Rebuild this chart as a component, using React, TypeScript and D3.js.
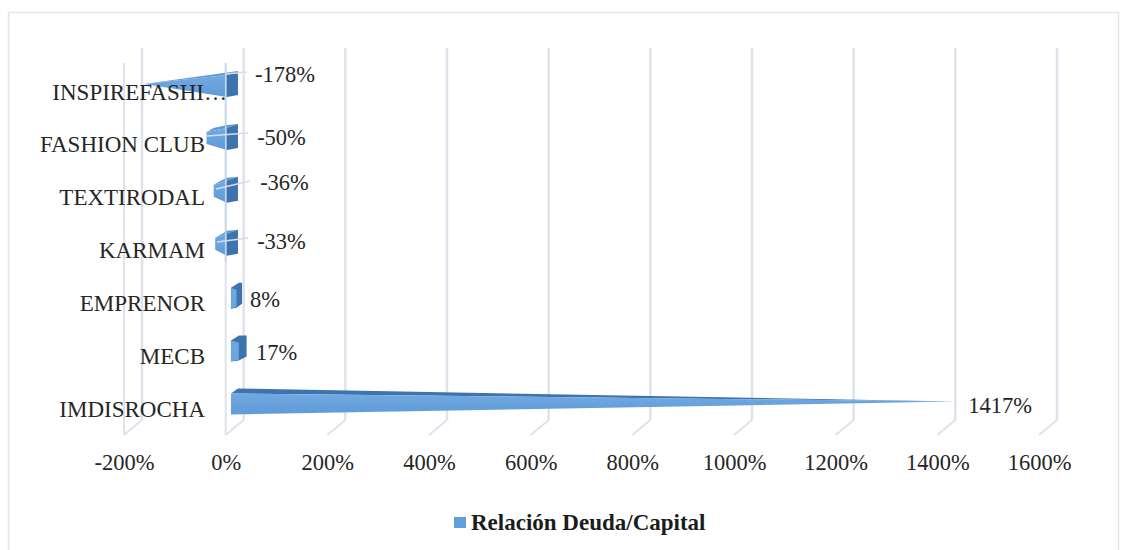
import React from "react";
import * as d3 from "d3";

const categories = ["INSPIREFASHI…", "FASHION CLUB", "TEXTIRODAL", "KARMAM", "EMPRENOR", "MECB", "IMDISROCHA"];
const values = [-178, -50, -36, -33, 8, 17, 1417];
const valueLabels = ["-178%", "-50%", "-36%", "-33%", "8%", "17%", "1417%"];
const ticks = [-200, 0, 200, 400, 600, 800, 1000, 1200, 1400, 1600];
const seriesName = "Relación Deuda/Capital";

const FONT = "'Liberation Serif', 'Times New Roman', serif";
const LIGHT = "#6ea6e0";
const DARK = "#3d74ad";
const GRID = "#dfe2ea";

const xBack = d3.scaleLinear().domain([-200, 1600]).range([142, 1057]);
const xMid = d3.scaleLinear().domain([-200, 1600]).range([132.8, 1047.8]);
const y = d3.scalePoint<string>().domain(categories).range([84, 401.5]);

const pts = (p: [number, number][]) => p.map((q) => q.join(",")).join(" ");

const labelPos: [number, number][] = [
  [285, 82], [281.5, 145], [284.5, 190], [281.5, 249], [265, 307], [276.5, 360], [1000, 413],
];
const leaders: ([number, number, number, number] | null)[] = [
  [226, 74, 247, 72], [207, 136, 248, 133], [216, 189, 250, 181], [217, 242, 248, 238], null, null, null,
];

function Bar({ v, c }: { v: number; c: string }) {
  const yc = y(c)!;
  const baseL = xMid(0) - 3.5;
  const baseR = xMid(0) + 3.5;
  const A: [number, number] = [baseL, yc + 13];
  const B: [number, number] = [baseL, yc - 8];
  const C: [number, number] = [baseR, yc - 13];
  const t = xMid(v);
  if (v < 0) {
    const blunt = v > -100;
    const end = blunt ? t - 2.5 : t;
    const nL = baseL - 4;
    const nA: [number, number] = [nL, yc + 13];
    const nB: [number, number] = [nL, yc - 9];
    const face: [number, number][] = blunt
      ? [[end, yc - 5], nB, nA, [end, yc + 7]]
      : [[end, yc], nB, nA];
    const top: [number, number][] = blunt
      ? [[end, yc - 5], [end + 7, yc - 9], [nL, yc - 12], C, nB]
      : [[end, yc], C, nB];
    return (
      <g>
        <polygon points={pts(top)} fill="#5f9ad6" />
        <polygon points={pts(face)} fill="url(#barFill)" />
        <polygon points={pts([nB, C, [baseR, yc + 11], nA])} fill={DARK} />
      </g>
    );
  }
  if (v < 100) {
    const tip = t + 3.5;
    const m = (baseL + tip) / 2;
    return (
      <g>
        <polygon points={pts([B, [baseL + 8, yc - 13], [tip, yc - 13], [tip, yc + 8], [m, yc + 12], A])} fill={DARK} />
        <polygon points={pts([B, A, [m, yc + 11], [m, yc - 6]])} fill={LIGHT} />
      </g>
    );
  }
  return (
    <g>
      <polygon points={pts([B, C, [t, yc]])} fill={DARK} />
      <polygon points={pts([B, A, [t, yc]])} fill="url(#barFill)" />
    </g>
  );
}

export default function App() {
  return (
    <svg
      width={1130}
      height={550}
      style={{ position: "absolute", left: 0, top: 0, background: "#fff" }}
      fontFamily={FONT}
    >
      <defs>
        <linearGradient id="barFill" x1="0" y1="0" x2="0" y2="1">
          <stop offset="0" stopColor="#72a9e2" />
          <stop offset="1" stopColor="#5f9bd8" />
        </linearGradient>
      </defs>
      <path d="M8.5,550 V12.5 H1118.5 V550" fill="none" stroke="#e6e6e6" strokeWidth={1.5} />
      {ticks.map((tk) => {
        const bx = xBack(tk);
        const front = bx - 18;
        return (
          <g key={tk}>
            <line x1={bx} x2={bx} y1={48} y2={420} stroke={GRID} strokeWidth={2.5} />
            <line x1={bx} x2={front} y1={420} y2={435} stroke={GRID} strokeWidth={2} />
            {tk <= 0 && <line x1={front} x2={front} y1={63} y2={435} stroke={GRID} strokeWidth={2} />}
            <text x={front + 0.5} y={470} textAnchor="middle" fontSize={22.5} fill="#262626">
              {tk}%
            </text>
          </g>
        );
      })}
      {categories.map((c, i) => (
        <Bar key={c} v={values[i]} c={c} />
      ))}
      <line x1={xBack(0) - 18} x2={xBack(0) - 18} y1={63} y2={262} stroke="#c4d5e8" strokeWidth={1.5} />
      {leaders.map((l, i) =>
        l ? <line key={i} x1={l[0]} y1={l[1]} x2={l[2]} y2={l[3]} stroke="#d3deea" strokeWidth={1.5} /> : null
      )}
      {categories.map((c, i) => (
        <text key={c} x={i === 0 ? 227 : 205} y={y(c)! + 15.5} textAnchor="end" fontSize={23} fill="#262626">
          {c}
        </text>
      ))}
      {valueLabels.map((t, i) => (
        <text key={t} x={labelPos[i][0]} y={labelPos[i][1]} textAnchor="middle" fontSize={22.5} fill="#262626">
          {t}
        </text>
      ))}
      <rect x={454} y={517} width={12} height={11} fill="#609fdc" />
      <text x={471} y={530} fontSize={23} fontWeight="bold" fill="#1c1c1c">
        {seriesName}
      </text>
    </svg>
  );
}
